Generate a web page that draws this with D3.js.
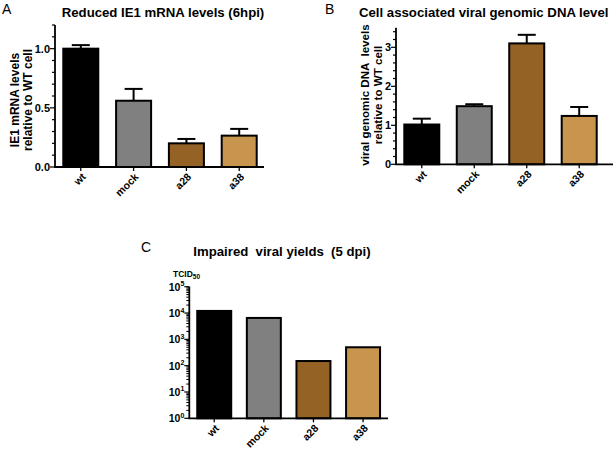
<!DOCTYPE html>
<html><head><meta charset="utf-8">
<script src="https://cdn.jsdelivr.net/npm/d3@7"></script>
<style>
body{margin:0;background:#fff;}
svg{display:block;font-family:"Liberation Sans",Arial,sans-serif;}
</style></head>
<body>
<svg id="c" width="616" height="450"></svg>
<script>
const categories = ["wt", "mock", "a28", "a38"];
const barColors = ["#000000", "#808080", "#956226", "#C8954F"];
const ie1Mean = [1.0, 0.56, 0.20, 0.265];
const ie1Err = [0.03, 0.10, 0.037, 0.057];
const ie1Ticks = ["0.0", "0.5", "1.0"];
const dnaMean = [1.02, 1.49, 3.10, 1.24];
const dnaErr = [0.15, 0.05, 0.22, 0.23];
const dnaTicks = ["0", "1", "2", "3"];
const yieldMean = [12000, 6500, 150, 500];
const yieldExp = [0, 1, 2, 3, 4, 5];

const svg = d3.select("#c");

function xAxis(g, x, y0, xEnd, x0) {
  g.append("line").attr("x1", x0).attr("x2", xEnd).attr("y1", y0).attr("y2", y0)
    .attr("stroke", "#000").attr("stroke-width", 1.8);
  categories.forEach(c => {
    const cx = x(c) + x.bandwidth() / 2;
    g.append("line").attr("x1", cx).attr("x2", cx).attr("y1", y0).attr("y2", y0 + 4)
      .attr("stroke", "#000").attr("stroke-width", 1.3);
    g.append("g").attr("transform", "translate(" + (cx + 3) + "," + (y0 + 8) + ")")
      .append("text").attr("transform", "rotate(-45)")
      .attr("text-anchor", "end").attr("dy", "0.35em")
      .attr("font-size", 10.5).attr("font-weight", "bold").text(c);
  });
}

function bars(g, x, y, vals, y0, errs) {
  vals.forEach((v, i) => {
    const c = categories[i];
    const bx = x(c), bw = x.bandwidth();
    if (errs) {
      const cx = bx + bw / 2;
      const ye = y(v + errs[i]);
      g.append("line").attr("x1", cx).attr("x2", cx).attr("y1", y(v)).attr("y2", ye)
        .attr("stroke", "#000").attr("stroke-width", 2);
      g.append("line").attr("x1", cx - 9).attr("x2", cx + 9).attr("y1", ye).attr("y2", ye)
        .attr("stroke", "#000").attr("stroke-width", 2);
    }
    g.append("rect").attr("x", bx).attr("width", bw).attr("y", y(v)).attr("height", y0 - y(v))
      .attr("fill", barColors[i]).attr("stroke", "#000").attr("stroke-width", 2);
  });
}

function linYAxis(g, ax, y, max, minorStep, majorVals, labels) {
  g.append("line").attr("x1", ax).attr("x2", ax).attr("y1", y(0)).attr("y2", y(max))
    .attr("stroke", "#000").attr("stroke-width", 1.8);
  const n = Math.round(max / minorStep);
  for (let k = 0; k <= n; k++) {
    const v = k * minorStep;
    if (v > max + 1e-9) break;
    const major = majorVals.some(m => Math.abs(m - v) < 1e-9);
    g.append("line").attr("x1", ax - (major ? 5 : 3)).attr("x2", ax).attr("y1", y(v)).attr("y2", y(v))
      .attr("stroke", "#000").attr("stroke-width", 1.2);
  }
  majorVals.forEach((m, i) => {
    g.append("text").attr("x", ax - 5).attr("y", y(m)).attr("dy", "0.35em")
      .attr("text-anchor", "end").attr("font-size", 11).attr("font-weight", "bold").text(labels[i]);
  });
}

function yTitle(g, cx, cy, lines, size) {
  lines.forEach((t, i) => {
    g.append("g").attr("transform", "translate(" + cx[i] + "," + cy + ")")
      .append("text").attr("transform", "rotate(-90)")
      .attr("text-anchor", "middle").attr("dy", "0.35em")
      .attr("font-size", size).attr("font-weight", "bold")
      .style("white-space", "pre").text(t);
  });
}

// ---------- Panel A ----------
{
  const g = svg.append("g");
  const x = d3.scaleBand().domain(categories).range([55, 265]).paddingInner(0.337).paddingOuter(0.157);
  const y = d3.scaleLinear().domain([0, 1.2]).range([167, 25]);
  bars(g, x, y, ie1Mean, y(0), ie1Err);
  linYAxis(g, 55, y, 1.2, 0.1, [0, 0.5, 1.0], ie1Ticks);
  xAxis(g, x, y(0), 264, 54);
  yTitle(g, [15, 28], 100, ["IE1 mRNA levels", "relative to WT cell"], 12);
  g.append("text").attr("x", 2).attr("y", 14).attr("font-size", 14).text("A");
  g.append("text").attr("x", 163).attr("y", 17).attr("text-anchor", "middle")
    .attr("font-size", 13.2).attr("font-weight", "bold").text("Reduced IE1 mRNA levels (6hpi)");
}

// ---------- Panel B ----------
{
  const g = svg.append("g");
  const x = d3.scaleBand().domain(categories).range([396, 605]).paddingInner(0.333).paddingOuter(0.158);
  const y = d3.scaleLinear().domain([0, 3.5]).range([164.3, 27.8]);
  bars(g, x, y, dnaMean, y(0), dnaErr);
  linYAxis(g, 396, y, 3.5, 0.2, [0, 1, 2, 3], dnaTicks);
  xAxis(g, x, y(0), 613, 395);
  yTitle(g, [365, 378], 95, ["viral genomic DNA  levels", "relative to WT cell"], 11.6);
  g.append("text").attr("x", 325).attr("y", 14).attr("font-size", 14).text("B");
  g.append("text").attr("x", 359).attr("y", 17).attr("text-anchor", "start")
    .attr("font-size", 13.2).attr("font-weight", "bold").text("Cell associated viral genomic DNA level");
}

// ---------- Panel C ----------
{
  const g = svg.append("g");
  const x = d3.scaleBand().domain(categories).range([189.3, 388]).paddingInner(0.315).paddingOuter(0.16);
  const y = d3.scaleLog().domain([1, 1e5]).range([418.3, 286.7]);
  bars(g, x, y, yieldMean, y(1), null);
  const ax = 189.3;
  g.append("line").attr("x1", ax).attr("x2", ax).attr("y1", y(1)).attr("y2", y(1e5))
    .attr("stroke", "#000").attr("stroke-width", 1.8);
  yieldExp.forEach(e => {
    const base = Math.pow(10, e);
    g.append("line").attr("x1", ax - 5).attr("x2", ax).attr("y1", y(base)).attr("y2", y(base))
      .attr("stroke", "#000").attr("stroke-width", 1.2);
    if (e < 5) {
      for (let m = 2; m <= 9; m++) {
        g.append("line").attr("x1", ax - 3).attr("x2", ax).attr("y1", y(m * base)).attr("y2", y(m * base))
          .attr("stroke", "#000").attr("stroke-width", 1);
      }
    }
    const t = g.append("text").attr("x", ax - 5).attr("y", y(base) + 4)
      .attr("text-anchor", "end").attr("font-size", 10.5).attr("font-weight", "bold");
    t.append("tspan").text("10");
    t.append("tspan").attr("font-size", 7).attr("dy", -4.5).text(String(e));
  });
  xAxis(g, x, y(1), 388, 188.5);
  const tl = g.append("text").attr("x", 173).attr("y", 276.5).attr("font-size", 8.5).attr("font-weight", "bold");
  tl.append("tspan").text("TCID");
  tl.append("tspan").attr("font-size", 6.5).attr("dy", 2).text("50");
  g.append("text").attr("x", 141).attr("y", 252).attr("font-size", 14).text("C");
  g.append("text").attr("x", 282).attr("y", 256).attr("text-anchor", "middle")
    .attr("font-size", 13.2).attr("font-weight", "bold").style("white-space", "pre")
    .text("Impaired  viral yields  (5 dpi)");
}
</script>
</body></html>
